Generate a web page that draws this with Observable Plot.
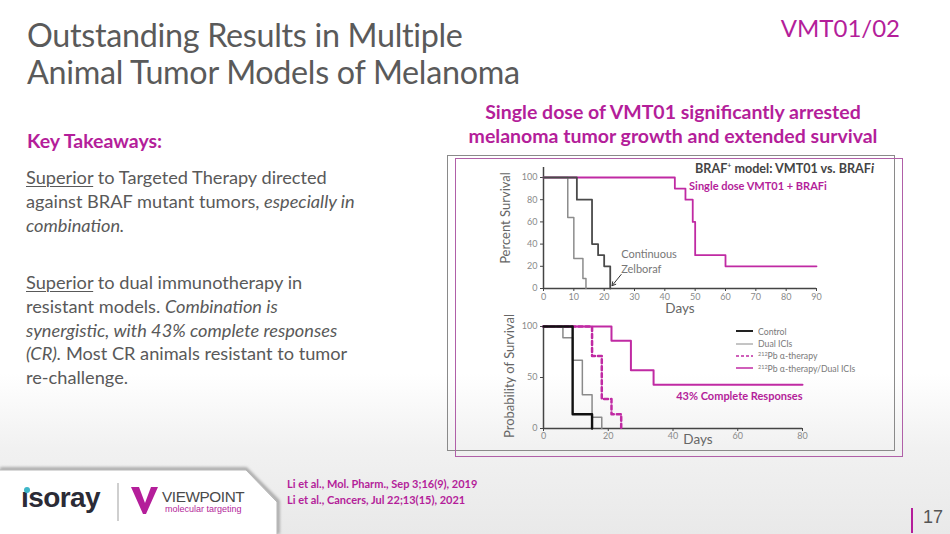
<!DOCTYPE html>
<html>
<head>
<meta charset="utf-8">
<script src="https://cdn.jsdelivr.net/npm/d3@7"></script>
<script src="https://cdn.jsdelivr.net/npm/@observablehq/plot@0.6"></script>
<style>
  html, body { margin: 0; padding: 0; }
  body {
    width: 950px; height: 534px; position: relative; overflow: hidden;
    font-family: Lato, "Open Sans", sans-serif;
    background: linear-gradient(to bottom, #ffffff 0%, #ffffff 70%, #f1f1f1 84%, #e9e9e9 100%);
  }
  .abs { position: absolute; }
  #title { left: 27px; top: 16px; font-size: 32.3px; line-height: 37px; color: #5a5a5a; font-weight: 400; letter-spacing: -0.3px; }
  #tag { right: 50px; top: 13px; font-size: 24px; color: #B41E9A; font-weight: 400; }
  #headline { left: 440px; width: 466px; top: 100px; text-align: center; font-size: 19.5px; line-height: 24px; color: #B41E9A; font-weight: 700; }
  #kt { left: 27px; top: 129px; font-size: 19.5px; font-weight: 700; color: #B41E9A; }
  .para { left: 26px; width: 400px; font-size: 18.2px; line-height: 23.8px; color: #595959; white-space: nowrap; }
  #p1 { top: 166px; }
  #p2 { top: 271px; }
  u { text-decoration-thickness: 1px; text-underline-offset: 2px; }
  #frameGray { left: 447px; top: 155px; width: 448px; height: 296px; border: 1px solid #8a8a8a; box-sizing: border-box; }
  #frameMag { left: 455px; top: 158px; width: 448px; height: 299px; border: 1.5px solid #B060A8; box-sizing: border-box; }
  #chart1 { left: 440px; top: 160px; }
  #chart2 { left: 440px; top: 310px; }
  #t1 { left: 695px; top: 161px; font-size: 12.6px; font-weight: 700; color: #444; white-space: nowrap; }
  .ylab { font-size: 13px; color: #666; white-space: nowrap; transform: translate(-50%, -50%) rotate(-90deg); }
  #ylab1 { left: 505px; top: 218px; }
  #ylab2 { left: 509px; top: 376px; }
  #legend { left: 736px; top: 325px; font-size: 8.7px; color: #7a7a7a; }
  .lg { height: 12.4px; display: flex; align-items: center; white-space: nowrap; }
  .lg svg { margin-right: 5px; }
  .lg sup { font-size: 5.5px; vertical-align: 3px; }
  #refs { left: 287px; top: 476px; font-size: 11px; line-height: 16px; color: #B41E9A; font-weight: 700; }
  #iso { left: 21px; top: 482px; font-size: 28px; font-weight: 700; color: #2b2b36; letter-spacing: -0.6px; font-family: "Liberation Sans", Arial, sans-serif; }
  #isodot { left: 24px; top: 487px; width: 6px; height: 6px; border-radius: 50%; background: #3db6c8; }
  #vline { left: 117px; top: 483px; width: 2px; height: 38px; background: #cfcfcf; }
  #vp { left: 162px; top: 488px; font-size: 15.3px; color: #4a4a4a; font-family: "Liberation Sans", Arial, sans-serif; letter-spacing: -0.4px; }
  #mt { left: 165px; top: 504px; font-size: 9px; color: #B41E9A; font-family: "Liberation Sans", Arial, sans-serif; }
  #pg { left: 923px; top: 507px; font-size: 18px; color: #555; font-family: "Liberation Sans", Arial, sans-serif; }
  #pbar { left: 911px; top: 508px; width: 1.5px; height: 25px; background: #B41E9A; }
</style>
</head>
<body>
<svg class="abs" style="left:0;top:0" width="950" height="534">
  <defs>
    <filter id="sh" x="-5%" y="-20%" width="110%" height="140%">
      <feGaussianBlur stdDeviation="1.5"/>
    </filter>
  </defs>
  <polyline points="0,469 246,469 278,501 278,534" fill="none" stroke="#9a9a9a" stroke-width="3" filter="url(#sh)"/>
  <path d="M0,470 L246,470 L277,502 L277,534 L0,534 Z" fill="#ffffff"/>
  <polyline points="0,470 246,470 277,502 277,534" fill="none" stroke="#b5b5b5" stroke-width="1"/>
  <polygon points="131,487 139,487 145,503 151,487 158,487 146,514 143,514" fill="#B41E9A"/>
</svg>

<div id="title" class="abs">Outstanding Results in Multiple<br>Animal Tumor Models of Melanoma</div>
<div id="tag" class="abs">VMT01/02</div>
<div id="headline" class="abs">Single dose of VMT01 significantly arrested<br>melanoma tumor growth and extended survival</div>
<div id="kt" class="abs">Key Takeaways:</div>
<div id="p1" class="abs para"><u>Superior</u> to Targeted Therapy directed<br>against BRAF mutant tumors, <i>especially in</i><br><i>combination.</i></div>
<div id="p2" class="abs para"><u>Superior</u> to dual immunotherapy in<br>resistant models. <i>Combination is</i><br><i>synergistic, with 43% complete responses</i><br><i>(CR).</i> Most CR animals resistant to tumor<br>re-challenge.</div>

<div id="frameGray" class="abs"></div>
<div id="frameMag" class="abs"></div>
<div id="chart1" class="abs"></div>
<div id="chart2" class="abs"></div>
<div id="t1" class="abs">BRAF<sup style="font-size:7px">+</sup> model: VMT01 vs. BRAF<i>i</i></div>
<div id="ylab1" class="abs ylab">Percent Survival</div>
<div id="ylab2" class="abs ylab">Probability of Survival</div>
<div id="legend" class="abs"></div>

<div id="iso" class="abs">ısoray</div>
<div id="isodot" class="abs"></div>
<div id="vline" class="abs"></div>
<div id="vp" class="abs">VIEWPOINT</div>
<div id="mt" class="abs">molecular targeting</div>
<div id="refs" class="abs">Li et al., Mol. Pharm., Sep 3;16(9), 2019<br>Li et al., Cancers, Jul 22;13(15), 2021</div>
<div id="pbar" class="abs"></div>
<div id="pg" class="abs">17</div>

<script>
// ---------- Data: BRAF+ model (top chart) ----------
const topXTicks = [0, 10, 20, 30, 40, 50, 60, 70, 80, 90];
const topYTicks = [0, 20, 40, 60, 80, 100];
const vmtDays = [0, 43.3, 46.8, 49.2, 50, 60, 90];
const vmtPct  = [100, 90, 80, 60, 30, 20, 20];
const zelDays = [0, 11, 16, 18, 20, 22];
const zelPct  = [100, 80, 40, 30, 20, 0];
const untDays = [0, 8, 10, 13, 14];
const untPct  = [100, 64, 27, 9, 0];
const topNotes = [
  {label: "Single dose VMT01 + BRAFi", day: 48, pct: 92},
  {label: "Continuous\nZelboraf", day: 25.6, pct: 25}
];
const topArrow = [{d1: 25.6, p1: 12.6, d2: 22.6, p2: 2.5}];

// ---------- Data: combination model (bottom chart) ----------
const botXTicks = [0, 20, 40, 60, 80];
const botYTicks = [0, 50, 100];
const ctlDays = [0, 9, 15];
const ctlPct  = [100, 14, 0];
const iciDays = [0, 6, 9, 12, 15, 18];
const iciPct  = [100, 89, 67, 33, 11, 0];
const pbDays  = [0, 15, 18, 21, 24];
const pbPct   = [100, 71, 29, 14, 0];
const comboDays = [0, 21, 27, 34, 80];
const comboPct  = [100, 86, 57, 43, 43];
const botNotes = [{label: "43% Complete Responses", day: 80, pct: 31}];
const legendNames = ["Control", "Dual ICIs", "<sup>212</sup>Pb α-therapy", "<sup>212</sup>Pb α-therapy/Dual ICIs"];

const MAG = "#C02AA3";
const MAGTXT = "#B41E9A";
const rows = (days, pct) => days.map((d, i) => ({day: d, pct: pct[i]}));

const axisCommon = {fontSize: 9, fill: "#8a8a8a", stroke: "#444", label: null};

const chart1 = Plot.plot({
  width: 460, height: 160,
  marginLeft: 103, marginRight: 84, marginTop: 17, marginBottom: 32,
  style: {background: "transparent", fontFamily: "Lato, sans-serif", overflow: "visible"},
  x: {domain: [0, 90]},
  y: {domain: [0, 100]},
  marks: [
    Plot.axisX({...axisCommon, ticks: topXTicks, tickSize: 3, tickPadding: 2}),
    Plot.axisY({...axisCommon, ticks: topYTicks, tickSize: 3, tickPadding: 3}),
    Plot.ruleY([0], {stroke: "#444", strokeWidth: 1.5}),
    Plot.ruleX([0], {y1: 0, y2: 109, stroke: "#444", strokeWidth: 1.5, clip: false}),
    Plot.line(rows(vmtDays, vmtPct), {x: "day", y: "pct", curve: "step-after", stroke: MAG, strokeWidth: 1.8}),
    Plot.line(rows(untDays, untPct), {x: "day", y: "pct", curve: "step-after", stroke: "#8c8c8c", strokeWidth: 1.5}),
    Plot.line(rows(zelDays, zelPct), {x: "day", y: "pct", curve: "step-after", stroke: "#4a4a4a", strokeWidth: 1.8}),
    Plot.text([topNotes[0]], {x: "day", y: "pct", text: "label", textAnchor: "start", fill: MAGTXT, fontWeight: 700, fontSize: 11}),
    Plot.text([topNotes[1]], {x: "day", y: "pct", text: "label", textAnchor: "start", fill: "#777", fontSize: 11, lineHeight: 1.35}),
    Plot.arrow(topArrow, {x1: "d1", y1: "p1", x2: "d2", y2: "p2", stroke: "#333", strokeWidth: 1, headLength: 6}),
    Plot.text(["Days"], {frameAnchor: "bottom", dy: 24, fontSize: 13.5, fill: "#666"})
  ]
});
document.getElementById("chart1").appendChild(chart1);

const chart2 = Plot.plot({
  width: 460, height: 150,
  marginLeft: 103, marginRight: 98, marginTop: 16, marginBottom: 32,
  style: {background: "transparent", fontFamily: "Lato, sans-serif", overflow: "visible"},
  x: {domain: [0, 80]},
  y: {domain: [0, 100]},
  marks: [
    Plot.axisX({...axisCommon, ticks: botXTicks, tickSize: 3, tickPadding: 1}),
    Plot.axisY({...axisCommon, ticks: botYTicks, tickSize: 3, tickPadding: 3}),
    Plot.ruleY([0], {stroke: "#444", strokeWidth: 1.5}),
    Plot.ruleX([0], {stroke: "#444", strokeWidth: 1.5}),
    Plot.line(rows(pbDays, pbPct), {x: "day", y: "pct", curve: "step-after", stroke: MAG, strokeWidth: 2.5, strokeDasharray: "4,3"}),
    Plot.line(rows(comboDays, comboPct), {x: "day", y: "pct", curve: "step-after", stroke: MAG, strokeWidth: 2}),
    Plot.line(rows(iciDays, iciPct), {x: "day", y: "pct", curve: "step-after", stroke: "#8a8a8a", strokeWidth: 1.5}),
    Plot.line(rows(ctlDays, ctlPct), {x: "day", y: "pct", curve: "step-after", stroke: "#111", strokeWidth: 2.4}),
    Plot.text(botNotes, {x: "day", y: "pct", text: "label", textAnchor: "end", fill: MAGTXT, fontWeight: 700, fontSize: 11}),
    Plot.text(["Days"], {frameAnchor: "bottom", dx: 25, dy: 15, fontSize: 13.5, fill: "#666"})
  ]
});
document.getElementById("chart2").appendChild(chart2);

// Legend for bottom chart
const legendStyles = [
  {stroke: "#222", w: 2, dash: null},
  {stroke: "#8a8a8a", w: 1, dash: null},
  {stroke: MAG, w: 1.5, dash: "3,2"},
  {stroke: MAG, w: 1.5, dash: null}
];
const lg = document.getElementById("legend");
legendNames.forEach((name, i) => {
  const s = legendStyles[i];
  const div = document.createElement("div");
  div.className = "lg";
  div.innerHTML = `<svg width="17" height="4"><line x1="0" y1="2" x2="17" y2="2" stroke="${s.stroke}" stroke-width="${s.w}" ${s.dash ? `stroke-dasharray="${s.dash}"` : ""}/></svg><span>${name}</span>`;
  lg.appendChild(div);
});
</script>
</body>
</html>
